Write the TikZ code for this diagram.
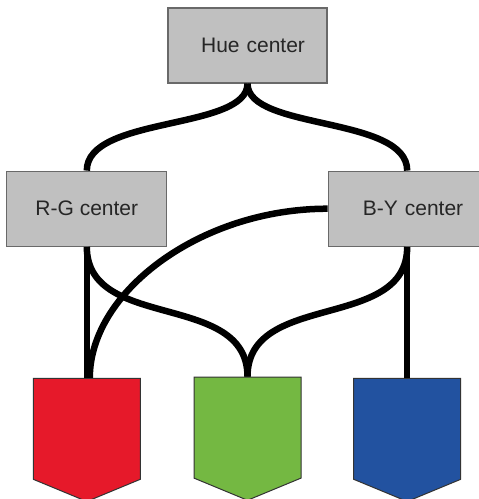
\documentclass[tikz,border=0pt]{standalone}
\usepackage{fontspec}
\setmainfont{Liberation Sans}
\usetikzlibrary{positioning,shapes.symbols}
\definecolor{boxgray}{RGB}{192,192,192}
\definecolor{boxline}{RGB}{105,105,105}
\definecolor{conered}{RGB}{230,25,42}
\definecolor{conegreen}{RGB}{116,184,66}
\definecolor{coneblue}{RGB}{34,82,160}
\tikzset{
  cbox/.style={draw=boxline, line width=1.2pt, fill=boxgray, minimum height=75pt,
    text=black!85, font=\fontsize{21}{25}\selectfont},
  cone/.style={signal, signal to=south, signal from=nowhere, signal pointer angle=135,
    draw=black!80, line width=1pt, minimum width=107pt, minimum height=101pt, inner sep=0pt},
  wire/.style={line width=6.5pt, black}
}

\begin{document}
\begin{tikzpicture}[x=1pt,y=-1pt] %
		\useasboundingbox (0,0) rectangle (479,499);
		% Centers
		\node[cbox, text width=115pt, inner xsep=22pt, align=right] (Hue) at (247.5,45.5) {Hue center} ;
		\node[cbox, minimum width=160pt, below left=87pt and 0pt of Hue.south west] (RG) {R-G center} ;
		\node[cbox, text width=119pt, inner xsep=16pt, align=right, below right=87pt and 0pt of Hue.south east] (BY) {B-Y center} ;
		% Cones
		\node[cone, fill=conered, below=131pt of RG] (Red) {} ;
		\node[cone, fill=conegreen, below=293pt of Hue] (Green) {} ;
		\node[cone, fill=coneblue, below=131pt of BY, xshift=3.5pt] (Blue) {} ;
		
		% Hue to R-G and B-Y
		\draw[wire] (Hue.south) .. controls +(0,47) and +(0,-55) .. (RG.north) ;
		\draw[wire] (Hue.south) .. controls +(0,47) and +(0,-55) .. ([xshift=3.5pt]BY.north) ;
		% R-G to cones
		\draw[wire] (RG.south) -- (Red.north) ;
		\draw[wire] (RG.south) .. controls +(0,85) and +(0,-86) .. (Green.north) ;
		% B-Y to cones
		\draw[wire] (BY.west) .. controls +(-127,0) and +(0,-86) .. ([xshift=3pt]Red.north) ;
		\draw[wire] ([xshift=3.5pt]BY.south) .. controls +(0,85) and +(0,-86) .. (Green.north) ;
		\draw[wire] ([xshift=3.5pt]BY.south) -- (Blue.north) ;
	\end{tikzpicture}
\end{document}
